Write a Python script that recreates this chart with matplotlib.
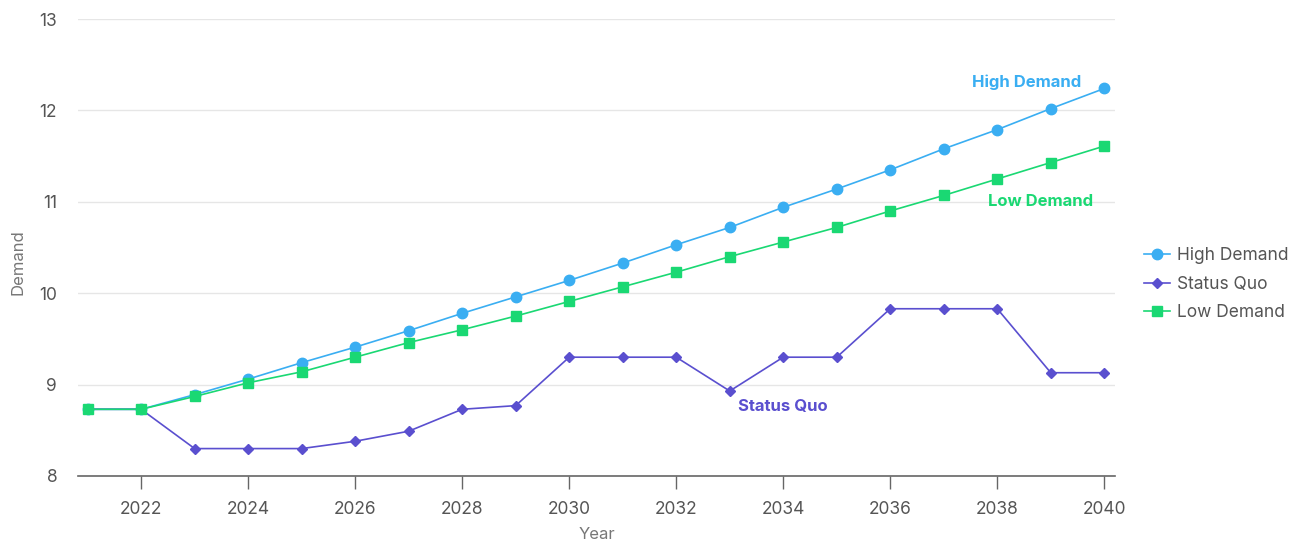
import matplotlib
matplotlib.use('Agg')

import matplotlib.pyplot as plt

plt.rcParams['font.family'] = ['Inter', 'DejaVu Sans']

years = list(range(2021, 2041))
high_demand = [8.73, 8.73, 8.89, 9.06, 9.24, 9.41, 9.59, 9.78, 9.96, 10.14,
               10.33, 10.53, 10.72, 10.94, 11.14, 11.35, 11.58, 11.79, 12.02, 12.24]
status_quo = [8.73, 8.73, 8.30, 8.30, 8.30, 8.38, 8.49, 8.73, 8.77, 9.30,
              9.30, 9.30, 8.93, 9.30, 9.30, 9.83, 9.83, 9.83, 9.13, 9.13]
low_demand = [8.73, 8.73, 8.87, 9.02, 9.14, 9.30, 9.46, 9.60, 9.75, 9.91,
              10.07, 10.23, 10.40, 10.56, 10.72, 10.90, 11.07, 11.25, 11.43, 11.61]

c_high = '#3aaef2'
c_sq = '#5a4fcf'
c_low = '#1ad873'
c_text = '#555555'

fig = plt.figure(figsize=(12.89, 5.44), dpi=100)
ax = fig.add_axes([0.0605, 0.125, 0.8045, 0.84])

ax.plot(years, high_demand, color=c_high, lw=1.2, marker='o', ms=7.5, label='High Demand', zorder=3)
ax.plot(years, status_quo, color=c_sq, lw=1.2, marker='D', ms=5.5, label='Status Quo', zorder=3)
ax.plot(years, low_demand, color=c_low, lw=1.2, marker='s', ms=7.5, label='Low Demand', zorder=4)

ax.set_xlim(2020.82, 2040.2)
ax.set_ylim(8, 13)
ax.set_xticks(range(2022, 2041, 2))
ax.set_yticks(range(8, 14))

for s in ['top', 'right', 'left']:
    ax.spines[s].set_visible(False)
ax.spines['bottom'].set_color('#666666')
ax.spines['bottom'].set_linewidth(1.2)
ax.grid(axis='y', color='#e6e6e6', lw=1)
ax.set_axisbelow(True)
ax.tick_params(axis='x', colors='#666666', length=9, width=1, labelsize=12.5, labelcolor=c_text, pad=9)
ax.tick_params(axis='y', length=0, labelsize=12.5, labelcolor=c_text, pad=15)

ax.set_xlabel('Year', fontsize=12, color='#777777')
ax.set_ylabel('Demand', fontsize=12, color='#777777')
ax.xaxis.set_label_coords(0.5, -0.112)
ax.yaxis.set_label_coords(-0.051, 0.468)

ax.text(2039.57, 12.31, 'High Demand', color=c_high, fontsize=12,
        fontweight='bold', ha='right', va='center')
ax.text(2039.8, 11.0, 'Low Demand', color=c_low, fontsize=12,
        fontweight='bold', ha='right', va='center')
ax.text(2034, 8.755, 'Status Quo', color=c_sq, fontsize=12,
        fontweight='bold', ha='center', va='center')

ax.legend(loc='center left', bbox_to_anchor=(1.013, 0.42), frameon=False,
          fontsize=12.5, labelcolor=c_text, handlelength=1.5, handletextpad=0.4,
          labelspacing=0.65)

fig.savefig('out.png', dpi=100)
